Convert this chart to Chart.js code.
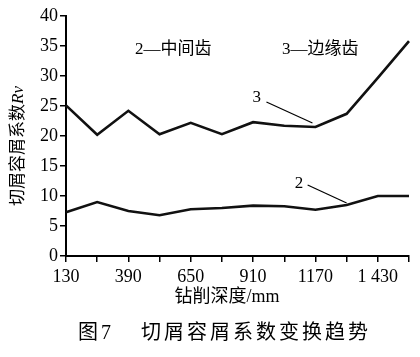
<!DOCTYPE html>
<html><head><meta charset="utf-8">
<script src="https://cdn.jsdelivr.net/npm/chart.js@4.4.0/dist/chart.umd.min.js"></script>
<style>html,body{margin:0;padding:0;background:#fff}#wrap{width:420px;height:357px}</style>
</head><body><div id="wrap"><canvas id="c" width="420" height="357"></canvas></div>
<script>
const depths = ['130','260','390','520','650','780','910','1040','1170','1300','1 430','1560'];
const shownLabels = [0,2,4,6,8,10];
const middleTooth = [7.3,9.0,7.5,6.8,7.8,8.0,8.4,8.3,7.7,8.5,10.0,10.0];
const edgeTooth = [25.1,20.2,24.2,20.3,22.2,20.3,22.3,21.7,21.5,23.7,29.7,35.8];
const yTicks = [0,5,10,15,20,25,30,35,40];

const SERIF = '"Liberation Serif","Noto Sans CJK SC",serif';
const annot = {
  id:'annot',
  afterDraw(chart){
    const ctx = chart.ctx, xs = chart.scales.x, ys = chart.scales.y;
    ctx.save();
    ctx.fillStyle = '#000'; ctx.strokeStyle = '#000';
    ctx.font = '17px ' + SERIF;
    ctx.textBaseline = 'middle';
    ctx.textAlign = 'left';
    ctx.fillText('2—中间齿', 135, 50);
    ctx.fillText('3—边缘齿', 282, 50);
    const p3x = xs.getPixelForValue(8), p3y = ys.getPixelForValue(edgeTooth[8]);
    const p2x = xs.getPixelForValue(9), p2y = ys.getPixelForValue(middleTooth[9]);
    ctx.lineWidth = 1.2;
    ctx.beginPath(); ctx.moveTo(p3x-49, p3y-25); ctx.lineTo(p3x-3, p3y-4); ctx.stroke();
    ctx.fillText('3', p3x-63, p3y-29);
    ctx.beginPath(); ctx.moveTo(p2x-39, p2y-20); ctx.lineTo(p2x, p2y-2); ctx.stroke();
    ctx.fillText('2', p2x-52, p2y-21);
    // y title
    ctx.save();
    ctx.translate(19, 146);
    ctx.rotate(-Math.PI/2);
    const t1 = '切屑容屑系数';
    ctx.font = 'italic 17px ' + SERIF;
    const w2 = ctx.measureText('Rv').width;
    ctx.font = '17px ' + SERIF;
    const w1 = ctx.measureText(t1).width;
    const start = -(w1+w2)/2;
    ctx.fillText(t1, start, 0);
    ctx.font = 'italic 17px ' + SERIF;
    ctx.fillText('Rv', start + w1, 0);
    ctx.restore();
    // x title and caption
    ctx.textAlign = 'center';
    ctx.font = '18px ' + SERIF;
    ctx.fillText('钻削深度/mm', 227, 297);
    ctx.textAlign = 'left';
    ctx.font = '20px ' + SERIF;
    ctx.letterSpacing = '3px';
    ctx.fillText('图7', 78, 334);
    ctx.fillText('切屑容屑系数变换趋势', 141, 334);
    ctx.restore();
  }
};

new Chart(document.getElementById('c'), {
  type:'line',
  data:{labels:depths, datasets:[
    {label:'2', data:middleTooth, borderColor:'#111', borderWidth:2.6, pointRadius:0, tension:0, fill:false},
    {label:'3', data:edgeTooth, borderColor:'#111', borderWidth:2.6, pointRadius:0, tension:0, fill:false}
  ]},
  options:{
    responsive:false, animation:false, devicePixelRatio:1,
    layout:{padding:{top:16,right:11,left:0,bottom:0}},
    plugins:{legend:{display:false}, tooltip:{enabled:false}},
    scales:{
      x:{type:'category', offset:false,
        grid:{drawOnChartArea:false, tickLength:6, color:'#000', lineWidth:1.5},
        border:{color:'#000', width:2},
        ticks:{autoSkip:false, maxRotation:0, color:'#000', padding:4,
          font:{family:SERIF, size:18},
          callback:(v,i)=> shownLabels.includes(i) ? depths[i] : ''},
        afterFit(s){ s.height = 101; }
      },
      y:{min:0, max:40,
        afterBuildTicks(s){ s.ticks = yTicks.map(v=>({value:v})); },
        grid:{drawOnChartArea:false, tickLength:6, color:'#000', lineWidth:1.5},
        border:{color:'#000', width:2},
        ticks:{color:'#000', padding:2, font:{family:SERIF, size:18}},
        afterFit(s){ s.width = 66; }
      }
    }
  },
  plugins:[annot]
});
</script>
</body></html>
